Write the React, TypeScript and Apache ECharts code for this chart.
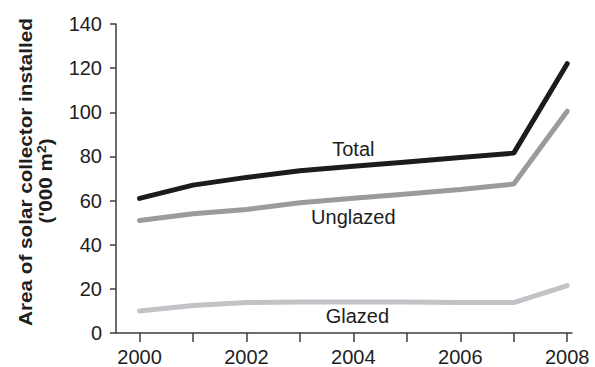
import React, { useEffect, useRef } from "react";
import * as echarts from "echarts";

const years = [2000, 2001, 2002, 2003, 2004, 2005, 2006, 2007, 2008];
const labelYears = [2000, 2002, 2004, 2006, 2008];
const total = [61, 67, 70.5, 73.5, 75.5, 77.5, 79.5, 81.5, 122];
const unglazed = [51, 54, 56, 59, 61, 63, 65, 67.5, 100.5];
const glazed = [10, 12.5, 13.8, 14, 14, 14, 13.8, 13.8, 21.5];
const seriesNames = ["Total", "Unglazed", "Glazed"];
const labelIndex = 4;

const FONT = "'Liberation Sans', Arial, Helvetica, sans-serif";
const TEXT = "#1e1e1e";
const AXIS = "#3c3c3c";

function buildData(vals: number[], pos: string, distance: number, offset: number[]) {
  return vals.map((v, i) => {
    if (i !== labelIndex) return [years[i], v];
    return {
      value: [years[i], v],
      label: {
        show: true,
        position: pos,
        distance,
        offset,
        formatter: "{a}",
        fontSize: 20,
        fontFamily: FONT,
        color: TEXT,
      },
    };
  });
}

export default function App() {
  const ref = useRef<HTMLDivElement>(null);
  useEffect(() => {
    if (!ref.current) return;
    const chart = echarts.init(ref.current, undefined, { renderer: "svg" });
    const lineSeries = (name: string, vals: number[], color: string, pos: string, dist: number, off: number[]) => ({
      type: "line",
      name,
      data: buildData(vals, pos, dist, off),
      showSymbol: true,
      symbol: "circle",
      symbolSize: 0,
      lineStyle: { color, width: 5, cap: "round" },
      itemStyle: { color },
      emphasis: { disabled: true },
      silent: true,
      z: 3,
    });
    chart.setOption({
      animation: false,
      backgroundColor: "#ffffff",
      grid: { left: 116, right: 23, top: 24, bottom: 34, containLabel: false },
      xAxis: {
        type: "value",
        min: 1999.56,
        max: 2008.09,
        axisLine: { show: true, lineStyle: { color: AXIS, width: 1.5 } },
        axisTick: { show: true, length: 9, customValues: years, lineStyle: { color: AXIS, width: 1.5 } },
        axisLabel: {
          customValues: labelYears,
          formatter: (v: number) => String(v),
          fontSize: 20,
          fontFamily: FONT,
          color: TEXT,
          margin: 14,
        },
        splitLine: { show: false },
      },
      yAxis: {
        type: "value",
        min: 0,
        max: 140,
        interval: 20,
        axisLine: { show: true, lineStyle: { color: AXIS, width: 1.5 } },
        axisTick: { show: true, length: 6, lineStyle: { color: AXIS, width: 1.5 } },
        axisLabel: { fontSize: 20, fontFamily: FONT, color: TEXT, margin: 14 },
        splitLine: { show: false },
      },
      graphic: [
        {
          type: "text",
          x: 26,
          y: 172,
          rotation: Math.PI / 2,
          scaleX: 1.15,
          style: {
            text: "Area of solar collector installed",
            font: `bold 18px ${FONT}`,
            fill: TEXT,
            align: "center",
            verticalAlign: "middle",
          },
        },
        {
          type: "text",
          x: 46,
          y: 181,
          rotation: Math.PI / 2,
          scaleX: 1.15,
          style: {
            text: "('000 m{sup|2})",
            font: `bold 18px ${FONT}`,
            fill: TEXT,
            align: "center",
            verticalAlign: "middle",
            rich: {
              sup: { font: `bold 12px ${FONT}`, fill: TEXT, padding: [0, 0, 8, 0] },
            },
          },
        },
      ],
      series: [
        lineSeries(seriesNames[0], total, "#1c1c1c", "top", 7, [0, 0]),
        lineSeries(seriesNames[1], unglazed, "#9b9b9b", "bottom", 9, [0, 0]),
        lineSeries(seriesNames[2], glazed, "#c3c3c7", "bottom", 4, [4, 0]),
      ],
    });
    return () => chart.dispose();
  }, []);
  return <div ref={ref} style={{ position: "fixed", left: 0, top: 0, width: 595, height: 367 }} />;
}
